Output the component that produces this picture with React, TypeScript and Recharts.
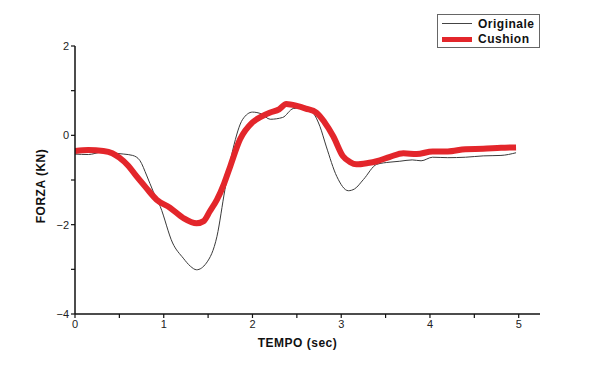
import React from 'react';
import { Line, LineChart, XAxis, YAxis } from 'recharts';

// Originale (thin black trace)
const origX = [0, 0.15, 0.3, 0.45, 0.55, 0.65, 0.73, 0.81, 0.88, 0.96, 1.1, 1.22, 1.3, 1.37, 1.48, 1.6, 1.69, 1.78, 1.89, 2.0, 2.1, 2.2, 2.34, 2.46, 2.58, 2.68, 2.76, 2.83, 2.95, 3.08, 3.15, 3.25, 3.4, 3.55, 3.66, 3.8, 3.9, 4.03, 4.2, 4.4, 4.6, 4.8, 4.97];
const origY = [-0.42, -0.43, -0.38, -0.4, -0.42, -0.45, -0.56, -0.91, -1.25, -1.59, -2.41, -2.75, -2.93, -3.01, -2.86, -2.26, -1.21, -0.31, 0.36, 0.52, 0.48, 0.36, 0.4, 0.6, 0.62, 0.51, 0.2, -0.24, -0.92, -1.24, -1.2, -0.99, -0.65, -0.6, -0.58, -0.55, -0.57, -0.49, -0.5, -0.49, -0.46, -0.45, -0.39];

// Cushion (thick red trace)
const cushX = [0, 0.15, 0.32, 0.42, 0.5, 0.6, 0.69, 0.8, 0.92, 1.07, 1.22, 1.37, 1.45, 1.52, 1.6, 1.68, 1.75, 1.86, 2.0, 2.1, 2.2, 2.3, 2.38, 2.5, 2.6, 2.72, 2.81, 2.91, 3.02, 3.1, 3.17, 3.3, 3.4, 3.55, 3.7, 3.85, 4.03, 4.2, 4.4, 4.6, 4.8, 4.97];
const cushY = [-0.35, -0.33, -0.35, -0.4, -0.5, -0.68, -0.91, -1.17, -1.44, -1.62, -1.85, -1.97, -1.92, -1.7, -1.44, -1.08, -0.69, -0.09, 0.29, 0.42, 0.51, 0.58, 0.7, 0.66, 0.6, 0.51, 0.3, -0.02, -0.47, -0.6, -0.65, -0.62, -0.58, -0.48, -0.4, -0.42, -0.36, -0.36, -0.31, -0.3, -0.28, -0.27];

const xTicks = [0, 0.5, 1, 1.5, 2, 2.5, 3, 3.5, 4, 4.5, 5];
const yTicks = [-4, -3, -2, -1, 0, 1, 2];

const origData = origX.map((x, i) => ({ t: x, v: origY[i] }));
const cushData = cushX.map((x, i) => ({ t: x, v: cushY[i] }));

const font = '"Liberation Sans", Arial, sans-serif';

const fmtX = (v: number) => (Number.isInteger(v) ? String(v) : '');
const fmtY = (v: number) => (v % 2 === 0 ? String(v).replace('-', '\u2212') : '');

const LegendBox = () => (
  <div
    style={{
      position: 'absolute',
      left: 437,
      top: 14,
      border: '1px solid #666',
      background: '#fff',
      width: 103,
      height: 34,
      boxSizing: 'border-box',
      fontFamily: font,
      fontWeight: 'bold',
      fontSize: 12,
      letterSpacing: 0.5,
      color: '#111',
      padding: '1px 0 0 4px',
    }}
  >
    <div style={{ display: 'flex', alignItems: 'center', height: 15 }}>
      <div style={{ width: 30, height: 1, background: '#444', marginRight: 6 }} />
      Originale
    </div>
    <div style={{ display: 'flex', alignItems: 'center', height: 16 }}>
      <div style={{ width: 30, height: 5, background: '#e3262b', marginRight: 6 }} />
      Cushion
    </div>
  </div>
);

const App: React.FC = () => {
  return (
    <div style={{ position: 'absolute', left: 0, top: 0, width: 600, height: 375, background: '#fff' }}>
      <LineChart width={600} height={375} margin={{ top: 46, right: 60, left: 35, bottom: 31 }}>
        <XAxis
          type="number"
          dataKey="t"
          domain={[0, 5.24]}
          ticks={xTicks}
          tickFormatter={fmtX}
          allowDataOverflow
          tickSize={4}
          tick={{ fontSize: 11, fill: '#222', fontFamily: font }}
          axisLine={{ stroke: '#111', strokeWidth: 1.5 }}
          tickLine={{ stroke: '#111', strokeWidth: 1.2 }}
          height={30}
          label={{ value: 'TEMPO (sec)', position: 'insideBottom', offset: -3, dx: -10, style: { fontSize: 12, fontWeight: 'bold', fill: '#111', fontFamily: font, letterSpacing: 0.5 } }}
        />
        <YAxis
          type="number"
          domain={[-4, 2]}
          ticks={yTicks}
          tickFormatter={fmtY}
          tickSize={4}
          width={40}
          tick={{ fontSize: 11, fill: '#222', fontFamily: font }}
          axisLine={{ stroke: '#111', strokeWidth: 1.5 }}
          tickLine={{ stroke: '#111', strokeWidth: 1.2 }}
          label={{ value: 'FORZA (KN)', angle: -90, position: 'insideLeft', dx: 1, dy: 6, style: { textAnchor: 'middle', fontSize: 12, fontWeight: 'bold', fill: '#111', fontFamily: font, letterSpacing: 0.5 } }}
        />
        <Line
          name="Originale"
          data={origData}
          dataKey="v"
          type="monotone"
          stroke="#3a3a3a"
          strokeWidth={1}
          dot={false}
          isAnimationActive={false}
        />
        <Line
          name="Cushion"
          data={cushData}
          dataKey="v"
          type="monotone"
          stroke="#e3262b"
          strokeWidth={6}
          dot={false}
          isAnimationActive={false}
        />
      </LineChart>
      <LegendBox />
    </div>
  );
};

export default App;
